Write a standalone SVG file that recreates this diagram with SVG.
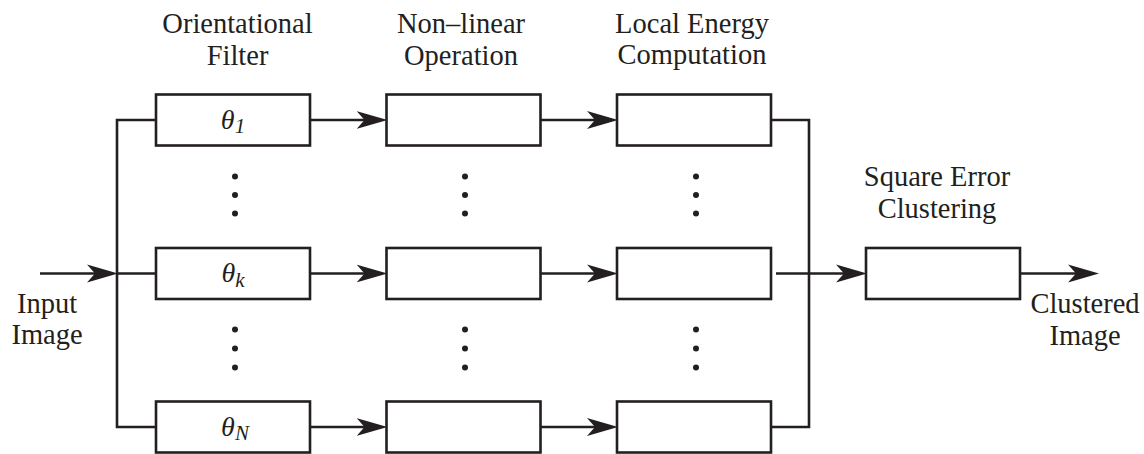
<svg xmlns="http://www.w3.org/2000/svg" width="1144" height="454" viewBox="0 0 1144 454">
  <style>
    .box { fill: #ffffff; stroke: #231f20; stroke-width: 2.6; }
    .wire { fill: none; stroke: #231f20; stroke-width: 2.6; }
    text { font-family: 'Liberation Serif', 'Times New Roman', serif; fill: #231f20; text-anchor: middle; }
    .lbl { font-size: 28.5px; }
    .sym { font-size: 28px; font-style: italic; }
    .sub { font-size: 21px; }
    .dot { fill: #231f20; }
  </style>
  <defs>
    <marker id="arrow" markerUnits="userSpaceOnUse" markerWidth="32" markerHeight="20" viewBox="0 0 32 20" refX="22" refY="10" orient="auto">
      <path d="M31,10 L0,1 L8,10 L0,19 Z" fill="#231f20"/>
    </marker>
  </defs>

  <!-- column headings -->
  <g id="headings">
    <text class="lbl" x="237.5" y="33">Orientational</text>
    <text class="lbl" x="237.5" y="65">Filter</text>
    <text class="lbl" x="461" y="33">Non–linear</text>
    <text class="lbl" x="461" y="65">Operation</text>
    <text class="lbl" x="692" y="33">Local Energy</text>
    <text class="lbl" x="692" y="64">Computation</text>
  </g>

  <!-- orientational filters -->
  <g id="filter-1">
    <rect class="box" x="156" y="94.5" width="154" height="51"/>
    <text class="sym" x="233" y="128.5">θ<tspan class="sub" dy="4.5">1</tspan></text>
  </g>
  <g id="filter-k">
    <rect class="box" x="156" y="248" width="154" height="51"/>
    <text class="sym" x="233" y="282">θ<tspan class="sub" dy="4.5">k</tspan></text>
  </g>
  <g id="filter-n">
    <rect class="box" x="156" y="401.5" width="154" height="51"/>
    <text class="sym" x="235" y="435.5">θ<tspan class="sub" dy="4.5">N</tspan></text>
  </g>

  <!-- non-linear operation -->
  <g id="nonlinear-1"><rect class="box" x="386.5" y="94.5" width="154" height="51"/></g>
  <g id="nonlinear-k"><rect class="box" x="386.5" y="248" width="154" height="51"/></g>
  <g id="nonlinear-n"><rect class="box" x="386.5" y="401.5" width="154" height="51"/></g>

  <!-- local energy computation -->
  <g id="energy-1"><rect class="box" x="617" y="94.5" width="154" height="51"/></g>
  <g id="energy-k"><rect class="box" x="617" y="248" width="154" height="51"/></g>
  <g id="energy-n"><rect class="box" x="617" y="401.5" width="154" height="51"/></g>

  <!-- clustering stage -->
  <g id="clustering">
    <text class="lbl" x="937" y="186">Square Error</text>
    <text class="lbl" x="937" y="218">Clustering</text>
    <rect class="box" x="866" y="248" width="154" height="51"/>
  </g>

  <!-- input and output labels -->
  <g id="input">
    <text class="lbl" x="47" y="313">Input</text>
    <text class="lbl" x="47" y="344">Image</text>
  </g>
  <g id="output">
    <text class="lbl" x="1085" y="313">Clustered</text>
    <text class="lbl" x="1085" y="345">Image</text>
  </g>

  <!-- vertical ellipses between branches -->
  <g id="ellipses">
    <circle class="dot" cx="235" cy="176.5" r="3"/>
    <circle class="dot" cx="235" cy="195" r="3"/>
    <circle class="dot" cx="235" cy="213.5" r="3"/>
    <circle class="dot" cx="465" cy="176.5" r="3"/>
    <circle class="dot" cx="465" cy="195" r="3"/>
    <circle class="dot" cx="465" cy="213.5" r="3"/>
    <circle class="dot" cx="696" cy="176.5" r="3"/>
    <circle class="dot" cx="696" cy="195" r="3"/>
    <circle class="dot" cx="696" cy="213.5" r="3"/>
    <circle class="dot" cx="235" cy="329.5" r="3"/>
    <circle class="dot" cx="235" cy="348.5" r="3"/>
    <circle class="dot" cx="235" cy="367.5" r="3"/>
    <circle class="dot" cx="465" cy="329.5" r="3"/>
    <circle class="dot" cx="465" cy="348.5" r="3"/>
    <circle class="dot" cx="465" cy="367.5" r="3"/>
    <circle class="dot" cx="696" cy="329.5" r="3"/>
    <circle class="dot" cx="696" cy="348.5" r="3"/>
    <circle class="dot" cx="696" cy="367.5" r="3"/>
  </g>

  <!-- connectors -->
  <g id="connectors">
    <line class="wire" x1="40" y1="273.5" x2="109" y2="273.5" marker-end="url(#arrow)"/>
    <path class="wire" d="M156,120 H117 V427 H156 M117,273.5 H156"/>
    <line class="wire" x1="310" y1="120" x2="378.5" y2="120" marker-end="url(#arrow)"/>
    <line class="wire" x1="310" y1="273.5" x2="378.5" y2="273.5" marker-end="url(#arrow)"/>
    <line class="wire" x1="310" y1="427" x2="378.5" y2="427" marker-end="url(#arrow)"/>
    <line class="wire" x1="540.5" y1="120" x2="609" y2="120" marker-end="url(#arrow)"/>
    <line class="wire" x1="540.5" y1="273.5" x2="609" y2="273.5" marker-end="url(#arrow)"/>
    <line class="wire" x1="540.5" y1="427" x2="609" y2="427" marker-end="url(#arrow)"/>
    <path class="wire" d="M771,120 H809 V427 H771"/>
    <line class="wire" x1="776" y1="273.5" x2="858" y2="273.5" marker-end="url(#arrow)"/>
    <line class="wire" x1="1020" y1="273.5" x2="1090" y2="273.5" marker-end="url(#arrow)"/>
  </g>
</svg>
